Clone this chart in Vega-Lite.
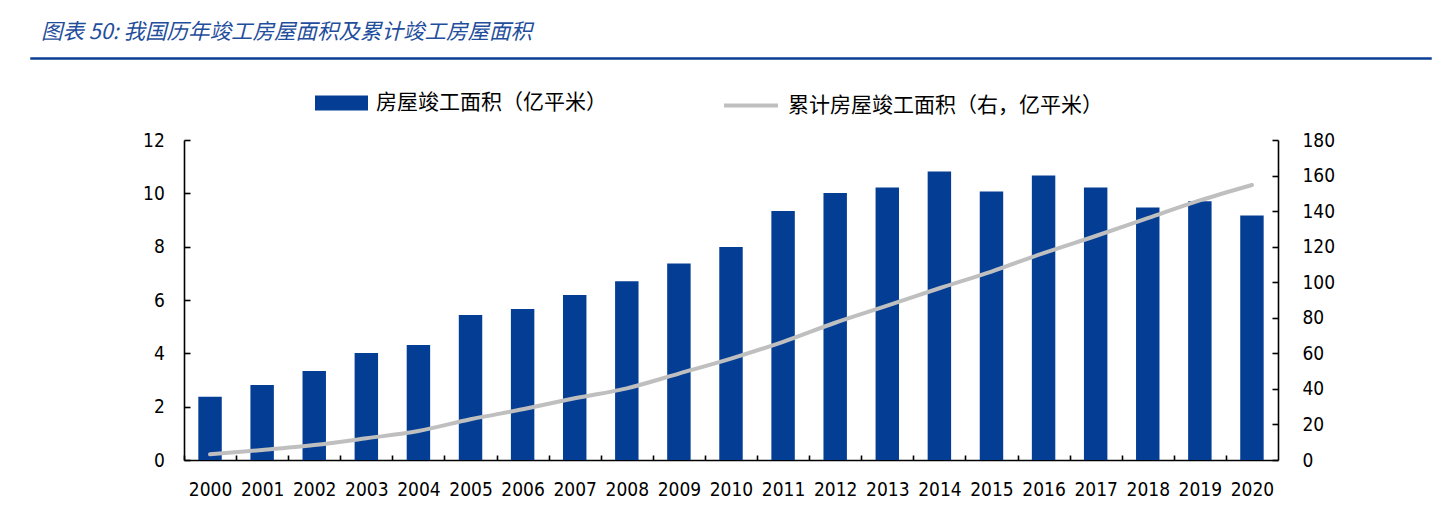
{
  "$schema": "https://vega.github.io/schema/vega-lite/v6.json",
  "padding": {"left": 30, "top": 20, "right": 5, "bottom": 5},
  "background": "white",
  "spacing": 81,
  "bounds": "flush",
  "center": true,
  "config": {
    "view": {"stroke": null},
    "font": "DejaVu Sans Condensed",
    "axis": {
      "labelFont": "DejaVu Sans Condensed",
      "labelFontSize": 19,
      "labelColor": "#000000",
      "domainColor": "#000000",
      "domainWidth": 1.6,
      "tickColor": "#000000",
      "tickWidth": 1.6,
      "grid": false,
      "title": null
    }
  },
  "vconcat": [
    {
      "width": 1400,
      "height": 1,
      "view": {"stroke": "#0B3F94", "strokeWidth": 1.5, "fill": "#0B3F94"},
      "title": {
        "text": "图表 50: 我国历年竣工房屋面积及累计竣工房屋面积",
        "anchor": "start",
        "dx": 10,
        "offset": -2,
        "baseline": "alphabetic",
        "font": "Noto Sans CJK SC",
        "fontSize": 21.5,
        "fontStyle": "italic",
        "fontWeight": "normal",
        "color": "#1F4E9C"
      },
      "data": {"values": []},
      "mark": "point",
      "encoding": {}
    },
    {
      "width": 1094,
      "height": 320,
      "data": {
        "values": [
          {"year": "2000", "area": 2.37, "cum": 3.2},
          {"year": "2001", "area": 2.81, "cum": 5.6},
          {"year": "2002", "area": 3.34, "cum": 8.4},
          {"year": "2003", "area": 4.01, "cum": 12.2},
          {"year": "2004", "area": 4.31, "cum": 16.3},
          {"year": "2005", "area": 5.44, "cum": 22.9},
          {"year": "2006", "area": 5.66, "cum": 28.5},
          {"year": "2007", "area": 6.19, "cum": 34.7},
          {"year": "2008", "area": 6.70, "cum": 40.3},
          {"year": "2009", "area": 7.37, "cum": 48.6},
          {"year": "2010", "area": 7.99, "cum": 57.0},
          {"year": "2011", "area": 9.34, "cum": 66.5},
          {"year": "2012", "area": 10.01, "cum": 77.2},
          {"year": "2013", "area": 10.22, "cum": 86.8},
          {"year": "2014", "area": 10.82, "cum": 96.6},
          {"year": "2015", "area": 10.07, "cum": 106.0},
          {"year": "2016", "area": 10.67, "cum": 116.4},
          {"year": "2017", "area": 10.22, "cum": 126.0},
          {"year": "2018", "area": 9.47, "cum": 136.0},
          {"year": "2019", "area": 9.70, "cum": 146.0},
          {"year": "2020", "area": 9.17, "cum": 154.7}
        ]
      },
      "encoding": {
        "x": {
          "field": "year",
          "type": "ordinal",
          "scale": {"paddingInner": 0.55, "paddingOuter": 0.275},
          "axis": {
            "labelAngle": 0,
            "tickSize": -5,
            "tickOffset": -26.05,
            "labelOffset": 26.05,
            "labelPadding": 25.7,
            "labelBaseline": "top"
          }
        }
      },
      "layer": [
        {
          "mark": {"type": "bar"},
          "encoding": {
            "y": {
              "field": "area",
              "type": "quantitative",
              "scale": {"domain": [0, 12]},
              "axis": {
                "orient": "left",
                "values": [0, 2, 4, 6, 8, 10, 12],
                "tickSize": -6,
                "labelPadding": 25.7
              }
            },
            "fill": {
              "datum": "房屋竣工面积（亿平米）",
              "scale": {"range": ["#033E94"]},
              "legend": {
                "title": null,
                "orient": "none",
                "legendX": 284,
                "legendY": 18.5,
                "padding": 0,
                "symbolType": "M-1,-0.28H1V0.28H-1Z",
                "symbolSize": 2809,
                "symbolStrokeWidth": 0,
                "labelFont": "Noto Sans CJK SC",
                "labelFontSize": 21,
                "labelColor": "#000000",
                "labelOffset": 8,
                "labelLimit": 0
              }
            }
          }
        },
        {
          "mark": {"type": "line", "interpolate": "monotone", "strokeWidth": 4, "strokeCap": "round"},
          "encoding": {
            "y": {
              "field": "cum",
              "type": "quantitative",
              "scale": {"domain": [0, 180]},
              "axis": {
                "orient": "right",
                "values": [0, 20, 40, 60, 80, 100, 120, 140, 160, 180],
                "tickSize": -6,
                "labelPadding": 30
              }
            },
            "stroke": {
              "datum": "累计房屋竣工面积（右，亿平米）",
              "scale": {"range": ["#BFBFBF"]},
              "legend": {
                "title": null,
                "orient": "none",
                "legendX": 691,
                "legendY": 18.5,
                "padding": 0,
                "symbolType": "stroke",
                "symbolSize": 2916,
                "symbolStrokeWidth": 4,
                "labelFont": "Noto Sans CJK SC",
                "labelFontSize": 21,
                "labelColor": "#000000",
                "labelOffset": 8,
                "labelLimit": 0
              }
            }
          }
        }
      ],
      "resolve": {"scale": {"y": "independent"}}
    }
  ]
}
